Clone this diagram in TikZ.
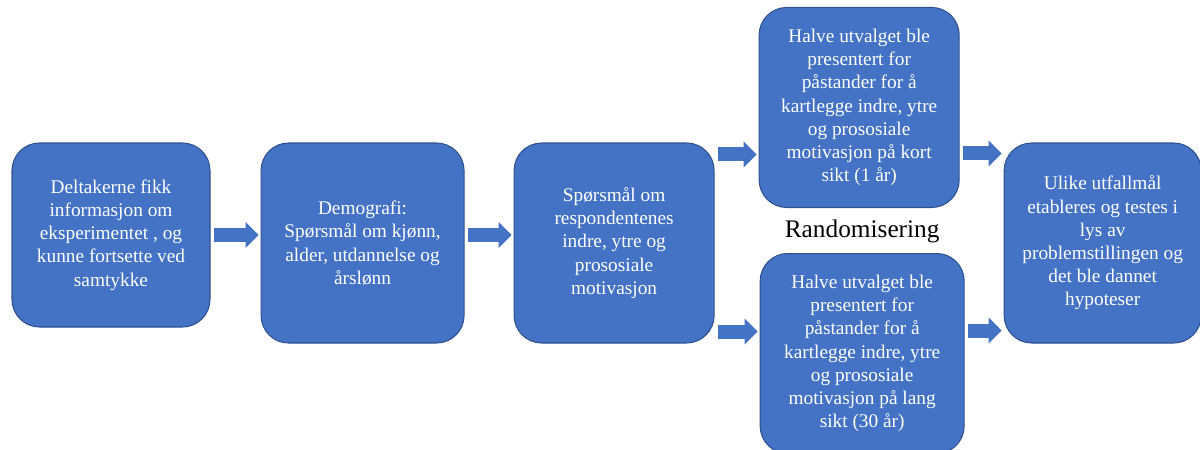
\documentclass[tikz,border=0pt]{standalone}
\usepackage{fontspec}
\setmainfont{Liberation Serif}
\usepackage{xcolor}
\usepackage{tikz}
\usetikzlibrary{arrows.meta, positioning}
\definecolor{boxblue}{RGB}{68,114,196}
\definecolor{boxedge}{RGB}{47,82,143}

\begin{document}
\begin{tikzpicture}[
    node distance=1cm,
    box/.style={draw=boxedge, fill=boxblue, rounded corners=0.55cm, minimum width=4cm, minimum height=4cm,
                text=white, align=center, inner sep=2pt, font=\fontsize{11pt}{13.2pt}\selectfont, line width=0.6pt},
    blk/.style={line width=0.28cm, draw=boxblue, -{Triangle[width=0.52cm, length=0.26cm, line width=0pt]},
                shorten <=0.06cm, shorten >=0.04cm},
]
\useasboundingbox (0,0) rectangle (24,-8.98);
\node[box, minimum width=3.96cm, minimum height=3.68cm] (info) at (2.22,-4.7)
    {Deltakerne fikk\\informasjon om\\eksperimentet , og\\kunne fortsette ved\\samtykke};
\node[box, minimum width=4.06cm, right=1cm of info.north east, anchor=north west] (demo)
    {Demografi:\\Spørsmål om kjønn,\\alder, utdannelse og\\årslønn};
\node[box, right=0.98cm of demo.north east, anchor=north west] (resp)
    {Spørsmål om\\respondentenes\\indre, ytre og\\prososiale\\motivasjon};
\node[box, above right=0.7cm and 0.88cm of resp.east] (kort)
    {Halve utvalget ble\\presentert for\\påstander for å\\kartlegge indre, ytre\\og prososiale\\motivasjon på kort\\sikt (1 år)};
\node[box, minimum width=4.08cm, below right=0.2cm and 0.9cm of resp.east] (lang)
    {Halve utvalget ble\\presentert for\\påstander for å\\kartlegge indre, ytre\\og prososiale\\motivasjon på lang\\sikt (30 år)};
\node[box, minimum width=3.94cm, right=5.78cm of resp] (utfall)
    {Ulike utfallmål\\etableres og testes i\\lys av\\problemstillingen og\\det ble dannet\\hypoteser};
\node[above=0.2cm of lang, inner sep=0pt, font=\fontsize{14.4pt}{17pt}\selectfont] (rand) {Randomisering};

\coordinate[below=0.24cm of resp.north east] (rtop);
\coordinate[above=0.24cm of resp.south east] (rbot);
\coordinate[below=0.22cm of utfall.north west] (utop);
\coordinate[above=0.26cm of utfall.south west] (ubot);

\draw[blk] (info.east) -- (info.east -| demo.west);
\draw[blk] (info.east -| demo.east) -- (info.east -| resp.west);
\draw[blk] (rtop) -- (rtop -| kort.west);
\draw[blk] (rbot) -- (rbot -| lang.west);
\draw[blk] (utop -| kort.east) -- (utop);
\draw[blk] (ubot -| lang.east) -- (ubot);
\end{tikzpicture}
\end{document}
